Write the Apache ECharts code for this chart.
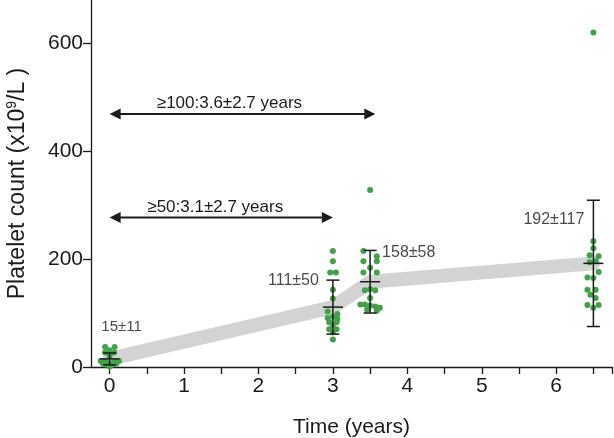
<!DOCTYPE html>
<html>
<head>
<meta charset="utf-8">
<script src="https://cdn.jsdelivr.net/npm/echarts@6/dist/echarts.min.js"></script>
<style>
html,body{margin:0;padding:0;background:#fff;}
#chart{width:614px;height:438px;}
</style>
</head>
<body>
<div id="chart"></div>
<script>
// ---- data ----
const times = [0, 3, 3.5, 6.5];
const means = [15, 111, 158, 192];
const sds = [11, 50, 58, 117];

const dotsT0 = [[-0.06,37],[0.067,37],[0,31],[-0.06,27],[0.06,27],[0,20],[-0.12,11],[-0.06,10],[0.07,10],[0.125,11],[-0.09,6],[0.09,6],[-0.035,4],[0.035,4],[0,1],[-0.03,7],[0.03,7]];
const dotsT3 = [[3.0,215],[3.0,196],[2.964,175],[3.04,175],[3.0,143],[3.0,127],[2.93,103],[3.06,98],[2.93,91],[3.0,93],[3.06,89],[2.95,83],[3.05,83],[3.0,78],[2.95,70],[3.05,70],[3.0,64],[3.0,51]];
const dotsT35 = [[3.5,328],[3.41,215],[3.59,205],[3.41,196],[3.59,196],[3.5,184],[3.41,175],[3.59,175],[3.5,144],[3.43,142],[3.57,142],[3.5,128],[3.37,116],[3.43,116],[3.5,114],[3.57,112],[3.63,110],[3.46,106],[3.59,104]];
const dotsT65 = [[6.5,620],[6.5,233],[6.5,220],[6.45,207],[6.57,205],[6.45,194],[6.53,196],[6.57,176],[6.42,166],[6.5,165],[6.42,143],[6.53,143],[6.46,134],[6.53,128],[6.42,115],[6.5,110],[6.57,115]];

const arrowLabels = ['\u2265100:3.6\u00b12.7 years', '\u226550:3.1\u00b12.7 years'];
const arrowLevels = [469, 277];
const arrowStarts = [0, 0];
const arrowEnds = [3.57, 3.0];

const xTickValues = [0,0.5,1,1.5,2,2.5,3,3.5,4,4.5,5,5.5,6,6.5,6.75];
const xLabelValues = [0,1,2,3,4,5,6];
const yTickValues = [0,200,400,600];

// ---- chart ----
const FONT = '"Liberation Sans", Arial, Helvetica, sans-serif';
const INK = '#1a1a1a';
const GREEN = '#43a04b';

const chart = echarts.init(document.getElementById('chart'), null, {renderer:'canvas'});

const summaryLabelCfg = [
  {align:'center', offset:[12,-26], fontSize:15},
  {align:'right', offset:[-14,0], fontSize:16},
  {align:'left', offset:[12,2], fontSize:16},
  {align:'right', offset:[-9,19], fontSize:16}
];
const summaryData = times.map((t,i)=>({
  value:[t, means[i]+sds[i]],
  label:Object.assign({show:true, position:'inside', verticalAlign:'middle',
    formatter: means[i] + '\u00b1' + sds[i], color:INK, fontFamily:FONT}, summaryLabelCfg[i])
}));

const arrowTextShift = [-13, -6];
const arrowData = arrowLabels.map((txt,i)=>[arrowStarts[i], arrowEnds[i], arrowLevels[i], i]);

const allDots = [].concat(dotsT0, dotsT3, dotsT35, dotsT65);

const option = {
  animation:false,
  backgroundColor:'#fff',
  grid:{left:91, right:2, top:0, bottom:71, outerBoundsMode:'none', containLabel:false},
  xAxis:{
    type:'value', min:-0.25, max:6.75,
    name:'Time (years)', nameLocation:'middle', nameGap:50,
    nameTextStyle:{fontSize:21, color:INK, fontFamily:FONT},
    axisLine:{show:true, onZero:false, lineStyle:{color:INK, width:1.3}},
    axisTick:{show:true, length:7, customValues:xTickValues, lineStyle:{color:INK, width:1.3}},
    axisLabel:{customValues:xLabelValues, fontSize:21, margin:9, color:INK, fontFamily:FONT},
    splitLine:{show:false}
  },
  yAxis:{
    type:'value', min:0, max:680,
    name:'Platelet count (x10{sup|9}/L )', nameLocation:'middle', nameGap:60, nameRotate:90,
    nameTextStyle:{fontSize:23, color:INK, fontFamily:FONT,
      rich:{sup:{fontSize:14, color:INK, fontFamily:FONT, padding:[0,0,12,0]}}},
    axisLine:{show:true, onZero:false, lineStyle:{color:INK, width:1.3}},
    axisTick:{show:true, length:8, customValues:yTickValues, lineStyle:{color:INK, width:1.3}},
    axisLabel:{customValues:yTickValues, fontSize:21, margin:8, color:INK, fontFamily:FONT},
    splitLine:{show:false}
  },
  series:[
    {
      type:'line', z:1,
      data: times.map((t,i)=>[t, means[i]]),
      symbol:'none',
      lineStyle:{color:'#d3d3d3', width:14, cap:'round', join:'round'},
      silent:true
    },
    {
      type:'scatter', z:3,
      data: allDots,
      symbol:'circle', symbolSize:6,
      itemStyle:{color:GREEN, opacity:1}
    },
    {
      type:'custom', z:4,
      data: times.map((t,i)=>[t, means[i], sds[i]]),
      renderItem:function(params, api){
        const t = api.value(0), m = api.value(1), s = api.value(2);
        const pm = api.coord([t, m]);
        const pt = api.coord([t, m+s]);
        const pb = api.coord([t, m-s]);
        const st = {stroke:INK, lineWidth:1.5};
        const capW = 6.5, meanW = 10;
        return {type:'group', children:[
          {type:'line', shape:{x1:pt[0], y1:pt[1], x2:pb[0], y2:pb[1]}, style:st},
          {type:'line', shape:{x1:pt[0]-capW, y1:pt[1], x2:pt[0]+capW, y2:pt[1]}, style:st},
          {type:'line', shape:{x1:pb[0]-capW, y1:pb[1], x2:pb[0]+capW, y2:pb[1]}, style:st},
          {type:'line', shape:{x1:pm[0]-meanW, y1:pm[1], x2:pm[0]+meanW, y2:pm[1]}, style:st}
        ]};
      }
    },
    {
      type:'scatter', z:5,
      data: summaryData,
      symbolSize:1,
      itemStyle:{color:'rgba(0,0,0,0)'},
      silent:true
    },
    {
      type:'custom', z:5,
      data: arrowData,
      renderItem:function(params, api){
        const x0 = api.value(0), x1 = api.value(1), yv = api.value(2), idx = api.value(3);
        const a = api.coord([x0, yv]);
        const b = api.coord([x1, yv]);
        const L = 11, H = 5.5;
        return {type:'group', children:[
          {type:'line', shape:{x1:a[0]+L-1, y1:a[1], x2:b[0]-L+1, y2:b[1]}, style:{stroke:INK, lineWidth:2}},
          {type:'polygon', shape:{points:[[a[0],a[1]],[a[0]+L,a[1]-H],[a[0]+L,a[1]+H]]}, style:{fill:INK}},
          {type:'polygon', shape:{points:[[b[0],b[1]],[b[0]-L,b[1]-H],[b[0]-L,b[1]+H]]}, style:{fill:INK}},
          {type:'text', x:(a[0]+b[0])/2 + arrowTextShift[idx], y:a[1]-10.5,
            style:{text:arrowLabels[idx], fontSize:17, fill:INK, fontFamily:FONT, align:'center', verticalAlign:'middle'}}
        ]};
      }
    }
  ]
};
chart.setOption(option);
</script>
</body>
</html>
